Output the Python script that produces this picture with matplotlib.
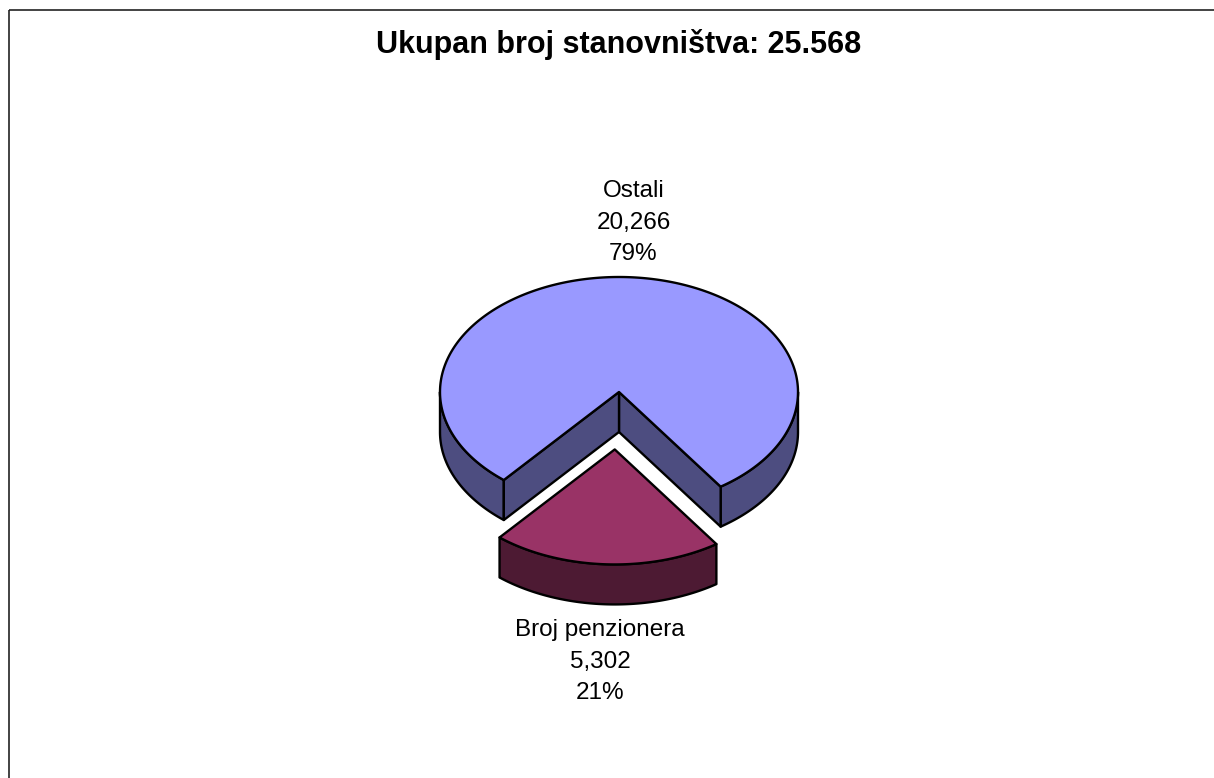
import numpy as np
import matplotlib
matplotlib.use("Agg")
import matplotlib.pyplot as plt
from matplotlib.patches import Polygon, Rectangle

# ---- data ----
categories = ["Ostali", "Broj penzionera"]
values = [20266, 5302]
title = "Ukupan broj stanovništva: 25.568"

# ---- style ----
top_colors = ["#9999FF", "#993366"]
side_colors = ["#4D4D80", "#4D1A33"]
explode = [0.0, 0.5]
CX, CY, RX, RY, DEPTH = 619.0, 392.0, 179.0, 115.0, 40.0
START = 304.6  # degrees, counter-clockwise
LW = 1.7
FONT = "Liberation Sans"

W, H = 1214, 778
fig = plt.figure(figsize=(W / 100, H / 100), dpi=100)
ax = fig.add_axes([0, 0, 1, 1])
ax.set_xlim(0, W)
ax.set_ylim(H, 0)
ax.axis("off")

# frame (only top/left visible in reference)
ax.add_patch(Rectangle((8.5, 9.5), 1400, 1000, fill=False, edgecolor="#222222",
                       lw=1.2, clip_on=True))

ax.text(618.5, 53.3, title, ha="center", va="baseline", fontsize=22,
        fontweight="bold", family=FONT, color="black")

vals = np.array(values, dtype=float)
fracs = vals / vals.sum()
cum = np.concatenate([[0], np.cumsum(fracs)[:-1]])


def rim(cx, cy, th_deg):
    t = np.radians(th_deg)
    return cx + RX * np.cos(t), cy - RY * np.sin(t)


slices = []
for i, f in enumerate(fracs):
    a0 = START + 360 * cum[i]
    a1 = a0 + 360 * f
    mid = np.radians((a0 + a1) / 2)
    cx = CX + explode[i] * RX * np.cos(mid)
    cy = CY - explode[i] * RY * np.sin(mid)
    slices.append((i, a0, a1, cx, cy))

# draw back slices first
for i, a0, a1, cx, cy in sorted(slices, key=lambda s: s[4]):
    # outer wall, front half only (sin < 0)
    k0 = int(np.floor(a0 / 360)) - 1
    for k in range(k0, k0 + 4):
        s = max(a0, 180 + 360 * k)
        e = min(a1, 360 + 360 * k)
        if e > s:
            t = np.linspace(s, e, 200)
            xs, ys = rim(cx, cy, t)
            pts = np.column_stack([np.concatenate([xs, xs[::-1]]),
                                   np.concatenate([ys, ys[::-1] + DEPTH])])
            ax.add_patch(Polygon(pts, closed=True, facecolor=side_colors[i],
                                 edgecolor="black", lw=LW, joinstyle="round"))
    # radial walls
    for ang, nrm in ((a0, a0 - 90), (a1, a1 + 90)):
        if np.sin(np.radians(nrm)) < 0:
            rx_, ry_ = rim(cx, cy, ang)
            pts = [(cx, cy), (rx_, ry_), (rx_, ry_ + DEPTH), (cx, cy + DEPTH)]
            ax.add_patch(Polygon(pts, closed=True, facecolor=side_colors[i],
                                 edgecolor="black", lw=LW, joinstyle="round"))
    # top face
    t = np.linspace(a0, a1, 400)
    xs, ys = rim(cx, cy, t)
    pts = np.column_stack([np.concatenate([[cx], xs]), np.concatenate([[cy], ys])])
    ax.add_patch(Polygon(pts, closed=True, facecolor=top_colors[i],
                         edgecolor="black", lw=LW, joinstyle="round"))

# labels
LINE = 31.5
for i, a0, a1, cx, cy in slices:
    mid = np.radians((a0 + a1) / 2)
    lines = [categories[i], f"{values[i]:,}", f"{fracs[i] * 100:.0f}%"]
    lx = cx + 1.7 * RX * np.cos(mid)
    if np.sin(mid) > 0:
        top_y = cy - RY * np.sin(mid)
        base0 = top_y - 17 - 2 * LINE
    else:
        bot_y = cy - RY * np.sin(mid) + DEPTH
        base0 = bot_y + 32
    for j, s in enumerate(lines):
        ax.text(lx, base0 + j * LINE, s, ha="center", va="baseline",
                fontsize=17.5, family=FONT, color="black")

fig.savefig("out.png", dpi=100, facecolor="white")
